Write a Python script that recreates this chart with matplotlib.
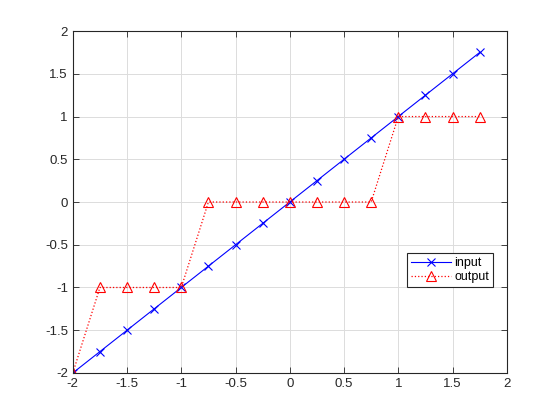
import matplotlib
matplotlib.use("Agg")
import matplotlib.pyplot as plt

# data
x_in = [-2, -1.75, -1.5, -1.25, -1, -0.75, -0.5, -0.25, 0, 0.25, 0.5, 0.75, 1, 1.25, 1.5, 1.75]
y_in = [-2, -1.75, -1.5, -1.25, -1, -0.75, -0.5, -0.25, 0, 0.25, 0.5, 0.75, 1, 1.25, 1.5, 1.75]
y_out = [-2, -1, -1, -1, -1, 0, 0, 0, 0, 0, 0, 0, 1, 1, 1, 1]

xticks = [-2, -1.5, -1, -0.5, 0, 0.5, 1, 1.5, 2]
yticks = [-2, -1.5, -1, -0.5, 0, 0.5, 1, 1.5, 2]

plt.rcParams['font.family'] = ['Liberation Sans', 'DejaVu Sans']

fig = plt.figure(figsize=(5.6, 4.2), dpi=100)
ax = fig.add_axes([0.13, 0.112, 0.775, 0.814])

ax.plot(x_in, y_in, '-x', color='#0000ff', lw=0.8, ms=6, mew=0.8, label='input')
ax.plot(x_in, y_out, ':^', color='#ff0000', lw=0.9, ms=7, mew=0.8,
        markerfacecolor='none', label='output')

ax.set_xlim(-2, 2)
ax.set_ylim(-2, 2)
ax.set_xticks(xticks)
ax.set_yticks(yticks)
ax.set_xticklabels([f"{t:g}" for t in xticks])
ax.set_yticklabels([f"{t:g}" for t in yticks])
ax.grid(True, color='#dcdcdc', lw=0.7)
ax.set_axisbelow(True)
ax.tick_params(direction='in', top=True, right=True, labelsize=9.5, length=4,
               width=0.6, colors='#262626', labelcolor='#262626')
for s in ax.spines.values():
    s.set_color('#262626')
    s.set_linewidth(0.8)

leg = ax.legend(loc='lower right', bbox_to_anchor=(0.968, 0.251), fontsize=9,
                frameon=True, fancybox=False, edgecolor='#262626', framealpha=1,
                borderpad=0.3, handlelength=3.2, handletextpad=0.3, labelspacing=0.2,
                borderaxespad=0)
leg.get_frame().set_linewidth(0.8)

fig.savefig('out.png', dpi=100, facecolor='white')
